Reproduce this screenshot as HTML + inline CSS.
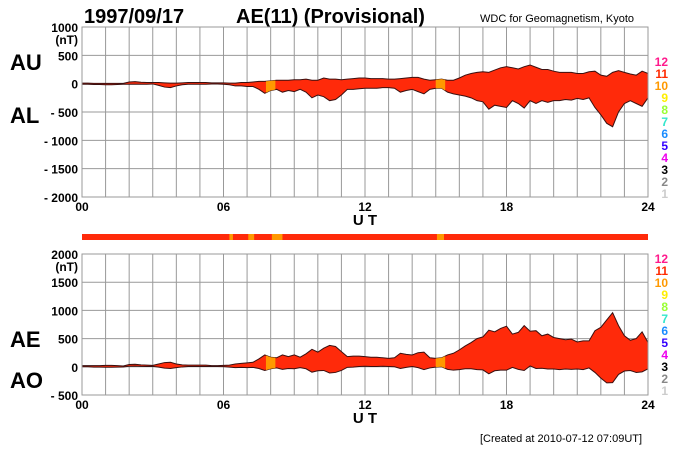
<!DOCTYPE html>
<html><head><meta charset="utf-8"><style>
body{margin:0;background:#fff;}
svg{display:block;font-family:"Liberation Sans",Arial,sans-serif;font-weight:bold;}
</style></head><body>
<svg id="c" width="700" height="450" viewBox="0 0 700 450">
<text x="84" y="23" font-size="20">1997/09/17</text>
<text x="236" y="23" font-size="20">AE(11) (Provisional)</text>
<text x="480" y="22" font-size="11" font-weight="normal">WDC for Geomagnetism, Kyoto</text>
<text x="10" y="70" font-size="22">AU</text>
<text x="10" y="123" font-size="22">AL</text>
<text x="10" y="347" font-size="22">AE</text>
<text x="10" y="388" font-size="22">AO</text>
<text x="480" y="442" font-size="11" font-weight="normal">[Created at 2010-07-12 07:09UT]</text>
<g id="top"></g><g id="strip"></g><g id="bot"></g>
</svg>
<script>
const auValues=[10,10,5,5,5,5,5,5,30,35,25,20,20,20,15,10,10,15,20,20,20,20,15,15,15,
10,10,20,20,30,40,40,50,60,60,60,70,70,80,60,60,100,80,80,70,80,90,100,100,
90,90,90,80,80,90,100,110,110,80,60,70,80,60,60,100,150,180,200,210,200,240,280,300,
280,260,300,330,290,250,250,220,200,200,200,180,180,210,220,150,130,200,230,200,170,150,220,180];
const alValues=[-10,-10,-15,-15,-20,-20,-15,-10,-10,-10,-10,-10,-5,-30,-60,-70,-40,-20,-10,-10,-10,-10,-5,-5,-10,
-20,-40,-40,-50,-50,-100,-170,-120,-100,-150,-120,-140,-100,-150,-250,-200,-230,-300,-280,-200,-100,-100,-90,-80,
-80,-80,-70,-70,-80,-150,-120,-100,-140,-180,-100,-80,-80,-150,-180,-200,-220,-250,-300,-320,-450,-380,-400,-420,
-300,-350,-430,-300,-350,-300,-330,-300,-300,-280,-290,-260,-280,-250,-420,-550,-700,-760,-500,-350,-300,-350,-400,-250];
const hours=auValues.map((v,i)=>i*24/(auValues.length-1));
const orangeSpans=[[7.8,8.2],[15.0,15.4]];
const stripOrange=[[6.25,6.4],[7.05,7.3],[8.05,8.5],[15.05,15.35]];
const topTicks=[1000,500,0,-500,-1000,-1500,-2000];
const botTicks=[2000,1500,1000,500,0,-500];
const xTicks=["00","06","12","18","24"];
const legendNums=["12","11","10","9","8","7","6","5","4","3","2","1"];
const legendCols=["#ff1a8c","#ff2a00","#ff9900","#ffee00","#99ff33","#33e6cc","#1a8cff","#3300ff","#ee00ee","#000000","#888888","#cccccc"];
const NS="http://www.w3.org/2000/svg";
const X0=82,X1=648;
const xs=h=>X0+(X1-X0)*h/24;
function mk(p,t,a){const e=document.createElementNS(NS,t);for(const k in a)e.setAttribute(k,a[k]);p.appendChild(e);return e;}
function panel(g,top,bot,vmax,vmin,ticks,upper,lower,pfx,yLegend){
  const ys=v=>top+(vmax-v)*(bot-top)/(vmax-vmin);
  const bg=mk(g,'rect',{x:X0,y:top,width:X1-X0,height:bot-top,fill:'#fff'});
  
  for(let h=0;h<=24;h++){const l=mk(g,'line',{x1:xs(h),x2:xs(h),y1:top,y2:bot,stroke:'#999','stroke-width':1});
    }
  ticks.forEach((t,i)=>{const y=ys(t);
    const l=mk(g,'line',{x1:X0,x2:X1,y1:y,y2:y,stroke:'#999','stroke-width':1});
    
    const tx=mk(g,'text',{x:78,y:y+5,'font-size':12,'text-anchor':'end'});tx.textContent=(t<0?'- '+(-t):String(t));
    
    if(i==0){const u=mk(g,'text',{x:78,y:y+17,'font-size':12,'text-anchor':'end'});u.textContent='(nT)';
      }
  });
  let d='M'+hours.map((h,i)=>xs(h)+','+ys(upper[i])).join('L');
  for(let i=hours.length-1;i>=0;i--)d+='L'+xs(hours[i])+','+ys(lower[i]);d+='Z';
  const cp=mk(g,'clipPath',{id:pfx+'clip'});mk(cp,'path',{d:d});
  const a=mk(g,'path',{d:d,fill:'#ff2a0a',stroke:'#3a1010','stroke-width':1});
  
  orangeSpans.forEach(s=>{const r=mk(g,'rect',{x:xs(s[0]),y:top,width:xs(s[1])-xs(s[0]),height:bot-top,fill:'#ff9900','clip-path':'url(#'+pfx+'clip)'});
    });
  const fr=mk(g,'rect',{x:X0,y:top,width:X1-X0,height:bot-top,fill:'none',stroke:'#999'});
  
  xTicks.forEach((t,i)=>{const tx=mk(g,'text',{x:xs(i*6),y:bot+14,'font-size':12,'text-anchor':'middle'});tx.textContent=t;
    });
  const ut=mk(g,'text',{x:xs(12),y:bot+28,'font-size':15,'text-anchor':'middle'});ut.textContent='U T';
  
  legendNums.forEach((n,i)=>{const tx=mk(g,'text',{x:668,y:yLegend+i*12,'font-size':12,'text-anchor':'end',fill:legendCols[i]});tx.textContent=n;
    });
}
const ae=auValues.map((v,i)=>v-alValues[i]);
const ao=auValues.map((v,i)=>(v+alValues[i])/2);
panel(document.getElementById('top'),27,197,1000,-2000,topTicks,auValues,alValues,'top',66);
panel(document.getElementById('bot'),254,395,2000,-500,botTicks,ae,ao,'bottom',263);
const sg=document.getElementById('strip');
const sb=mk(sg,'rect',{x:X0,y:234,width:X1-X0,height:6,fill:'#ff2a0a'});

stripOrange.forEach(s=>{const r=mk(sg,'rect',{x:xs(s[0]),y:234,width:xs(s[1])-xs(s[0]),height:6,fill:'#ff9900'});
  });
</script>
</body></html>
